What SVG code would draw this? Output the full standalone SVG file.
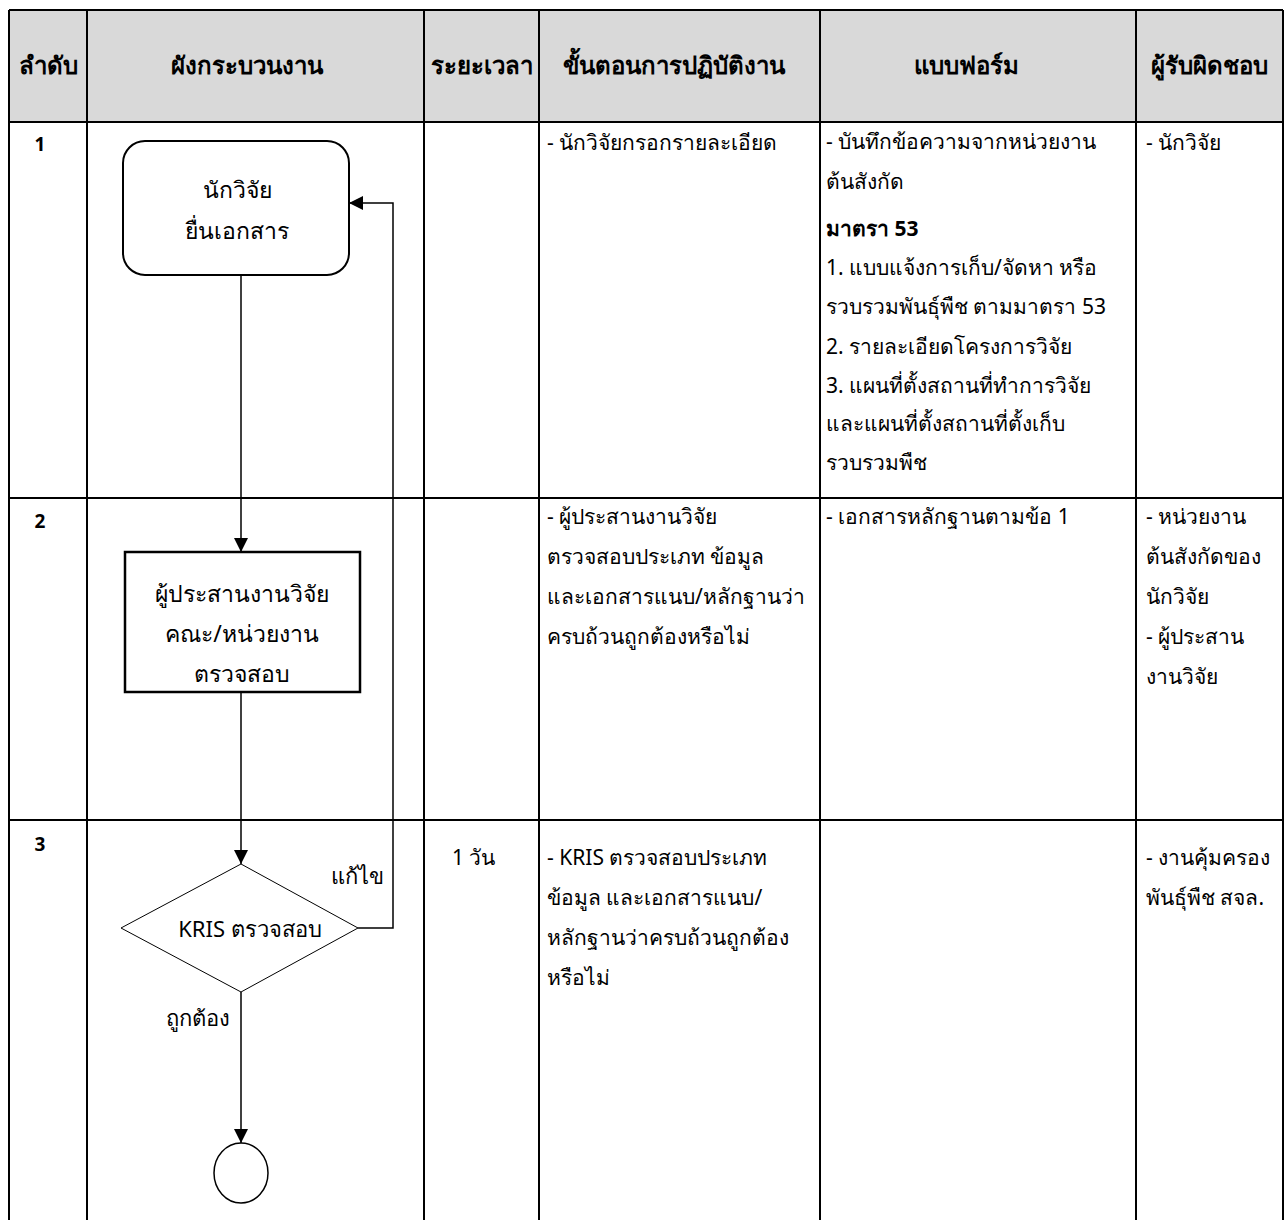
<svg xmlns="http://www.w3.org/2000/svg" width="1285" height="1220" viewBox="0 0 1285 1220">
<style>
  text { font-family: "Noto Sans", "DejaVu Sans", "Liberation Sans", sans-serif; fill: #000; }
  .hd { font-size: 24px; font-weight: bold; text-anchor: middle; }
  .num { font-size: 19px; font-weight: bold; text-anchor: middle; }
  .body { font-size: 21px; }
  .node { font-size: 23px; text-anchor: middle; }
  .lbl { font-size: 22px; text-anchor: middle; }
  .grid { stroke: #000; stroke-width: 2; fill: none; }
  .conn { stroke: #000; stroke-width: 1.5; fill: none; }
</style>
<defs>
  <marker id="arrL" viewBox="0 0 14 14" refX="14" refY="7" markerWidth="14" markerHeight="14" markerUnits="userSpaceOnUse" orient="auto">
    <path d="M0,0 L14,7 L0,14 z" fill="#000"/>
  </marker>
</defs>
<rect width="1285" height="1220" fill="#fff"/>
<g id="table">
  <rect x="9" y="10" width="1274" height="112" fill="#d9d9d9"/>
  <path class="grid" d="M9,10 H1283 M9,122 H1283 M9,498 H1283 M9,820 H1283 M9,10 V1220 M87,10 V1220 M424,10 V1220 M539,10 V1220 M820,10 V1220 M1136,10 V1220 M1283,10 V1220"/>
  <text class="hd" x="48" y="74">ลำดับ</text>
  <text class="hd" x="247" y="74">ผังกระบวนงาน</text>
  <text class="hd" x="482" y="74">ระยะเวลา</text>
  <text class="hd" x="674" y="74">ขั้นตอนการปฏิบัติงาน</text>
  <text class="hd" x="966" y="74">แบบฟอร์ม</text>
  <text class="hd" x="1209" y="74">ผู้รับผิดชอบ</text>
  <text class="num" x="40" y="151">1</text>
  <text class="num" x="40" y="528">2</text>
  <text class="num" x="40" y="851">3</text>
</g>
<g id="connectors">
  <line class="conn" x1="241" y1="275" x2="241" y2="552" marker-end="url(#arrL)"/>
  <line class="conn" x1="241" y1="692" x2="241" y2="864" marker-end="url(#arrL)"/>
  <line class="conn" x1="241" y1="992" x2="241" y2="1143" marker-end="url(#arrL)"/>
  <polyline class="conn" points="358,928 393,928 393,203 349,203" marker-end="url(#arrL)"/>
  <text class="lbl" x="357" y="884">แก้ไข</text>
  <text class="lbl" x="198" y="1026">ถูกต้อง</text>
</g>
<g id="n1">
  <rect x="123" y="141" width="226" height="134" rx="22" ry="22" fill="#fff" stroke="#000" stroke-width="2"/>
  <text class="node" x="237" y="198">นักวิจัย</text>
  <text class="node" x="237" y="239">ยื่นเอกสาร</text>
</g>
<g id="n2">
  <rect x="125" y="552" width="235" height="140" fill="#fff" stroke="#000" stroke-width="2.5"/>
  <text class="node" x="242" y="602">ผู้ประสานงานวิจัย</text>
  <text class="node" x="242" y="642">คณะ/หน่วยงาน</text>
  <text class="node" x="242" y="682">ตรวจสอบ</text>
</g>
<g id="n3">
  <polygon points="241,864 358,928 241,992 121,928" fill="#fff" stroke="#000" stroke-width="1"/>
  <text class="lbl" x="250" y="937">KRIS ตรวจสอบ</text>
</g>
<g id="n4">
  <ellipse cx="241" cy="1173" rx="27" ry="30" fill="#fff" stroke="#000" stroke-width="1.5"/>
</g>
<g id="texts">
  <text class="body" x="452" y="865">1 วัน</text>
  <text class="body" x="547" y="150">- นักวิจัยกรอกรายละเอียด</text>
  <text class="body" x="547" y="524">- ผู้ประสานงานวิจัย</text>
  <text class="body" x="547" y="564">ตรวจสอบประเภท ข้อมูล</text>
  <text class="body" x="547" y="604">และเอกสารแนบ/หลักฐานว่า</text>
  <text class="body" x="547" y="644">ครบถ้วนถูกต้องหรือไม่</text>
  <text class="body" x="547" y="865">- KRIS ตรวจสอบประเภท</text>
  <text class="body" x="547" y="905">ข้อมูล และเอกสารแนบ/</text>
  <text class="body" x="547" y="945">หลักฐานว่าครบถ้วนถูกต้อง</text>
  <text class="body" x="547" y="985">หรือไม่</text>
  <text class="body" x="826" y="149">- บันทึกข้อความจากหน่วยงาน</text>
  <text class="body" x="826" y="189">ต้นสังกัด</text>
  <text class="body" x="826" y="236" style="font-weight:bold">มาตรา 53</text>
  <text class="body" x="826" y="275">1. แบบแจ้งการเก็บ/จัดหา หรือ</text>
  <text class="body" x="826" y="314">รวบรวมพันธุ์พืช ตามมาตรา 53</text>
  <text class="body" x="826" y="354">2. รายละเอียดโครงการวิจัย</text>
  <text class="body" x="826" y="393">3. แผนที่ตั้งสถานที่ทำการวิจัย</text>
  <text class="body" x="826" y="431">และแผนที่ตั้งสถานที่ตั้งเก็บ</text>
  <text class="body" x="826" y="470">รวบรวมพืช</text>
  <text class="body" x="826" y="524">- เอกสารหลักฐานตามข้อ 1</text>
  <text class="body" x="1146" y="150">- นักวิจัย</text>
  <text class="body" x="1146" y="524">- หน่วยงาน</text>
  <text class="body" x="1146" y="564">ต้นสังกัดของ</text>
  <text class="body" x="1146" y="604">นักวิจัย</text>
  <text class="body" x="1146" y="644">- ผู้ประสาน</text>
  <text class="body" x="1146" y="684">งานวิจัย</text>
  <text class="body" x="1146" y="865">- งานคุ้มครอง</text>
  <text class="body" x="1146" y="905">พันธุ์พืช สจล.</text>
</g>
</svg>
